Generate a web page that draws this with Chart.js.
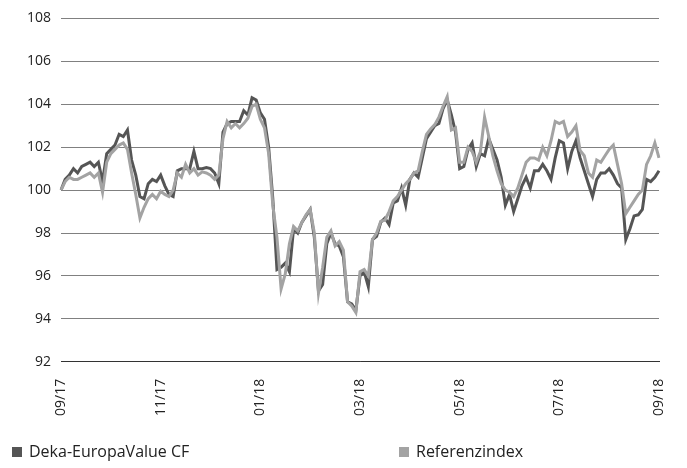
<!DOCTYPE html>
<html>
<head>
<meta charset="utf-8">
<script src="https://cdn.jsdelivr.net/npm/chart.js@4"></script>
<style>
  body { margin: 0; background: #fff; }
  #wrap { position: relative; width: 687px; height: 468px; }
  .leg { position: absolute; top: 440px; font: 16px "Open Sans", sans-serif; color: #222; line-height: 22px; }
  .leg span { display: inline-block; width: 10px; height: 10px; margin-right: 7px; vertical-align: 0px; }
</style>
</head>
<body>
<div id="wrap">
  <canvas id="perfChart" width="687" height="468"></canvas>
  <div class="leg" style="left: 12px;"><span style="background:#555555"></span>Deka-EuropaValue CF</div>
  <div class="leg" style="left: 399px;"><span style="background:#a3a3a3"></span>Referenzindex</div>
</div>
<script>
// month labels, one every 24 points (12 points per month)
var monthLabels = ['09/17', '11/17', '01/18', '03/18', '05/18', '07/18', '09/18'];

// Deka-EuropaValue CF (indexed, 09/17 = 100)
var fund = [
  100.0, 100.5, 100.7, 101.0, 100.8, 101.1, 101.2, 101.3, 101.1, 101.3,
  100.4, 101.7, 101.9, 102.1, 102.6, 102.5, 102.8, 101.4, 100.7, 99.7,
  99.6, 100.3, 100.5, 100.4, 100.7, 100.2, 99.8, 99.7, 100.9, 101.0,
  101.0, 101.0, 101.8, 101.0, 101.0, 101.05, 101.0, 100.8, 100.3, 102.7,
  103.1, 103.2, 103.2, 103.2, 103.7, 103.5, 104.3, 104.2, 103.6, 103.3,
  102.0, 99.6, 96.3, 96.4, 96.6, 96.2, 98.2, 98.0, 98.5, 98.8,
  99.1, 97.8, 95.3, 95.6, 97.5, 98.0, 97.5, 97.4, 96.9, 94.8,
  94.7, 94.4, 96.0, 96.2, 95.5, 97.7, 97.85, 98.5, 98.7, 98.4,
  99.4, 99.5, 100.1, 99.3, 100.5, 100.8, 100.6, 101.5, 102.4, 102.7,
  103.0, 103.1, 103.8, 104.2, 103.5, 102.7, 101.0, 101.1, 101.9, 102.2,
  101.1, 101.7, 101.6, 102.4, 101.9, 101.4, 100.6, 99.3, 99.8, 99.0,
  99.6, 100.2, 100.6, 100.1, 100.9, 100.9, 101.2, 100.9, 100.5, 101.5,
  102.3, 102.2, 101.0, 101.8, 102.3, 101.5, 100.9, 100.3, 99.7, 100.5,
  100.8, 100.8, 101.0, 100.7, 100.3, 100.1, 97.7, 98.2, 98.8, 98.85,
  99.1, 100.5, 100.4, 100.6, 100.9
];

// Referenzindex
var reference = [
  100.0, 100.4, 100.6, 100.5, 100.5, 100.6, 100.7, 100.8, 100.6, 100.8,
  99.9, 101.3, 101.7, 101.9, 102.1, 102.2, 101.9, 100.8, 99.8, 98.7,
  99.2, 99.6, 99.8, 99.6, 99.95, 99.8, 99.7, 100.0, 100.8, 100.6,
  101.2, 100.8, 101.0, 100.7, 100.85, 100.8, 100.7, 100.5, 100.7, 102.4,
  103.2, 102.9, 103.1, 102.9, 103.1, 103.35, 103.9, 104.0, 103.3, 102.9,
  101.7, 99.3, 97.8, 95.4, 96.1, 97.5, 98.3, 98.1, 98.5, 98.85,
  99.1, 98.0, 95.2, 96.4, 97.8, 98.1, 97.4, 97.6, 97.2, 94.8,
  94.6, 94.3, 96.2, 96.3, 96.0, 97.7, 98.0, 98.55, 98.6, 99.0,
  99.5, 99.7, 100.0, 100.3, 100.5, 100.8, 100.9, 101.8, 102.6, 102.85,
  103.05, 103.4, 103.9, 104.35, 102.8, 102.9, 101.3, 101.3, 102.0, 101.8,
  101.3, 101.8, 103.4, 102.5, 101.6, 100.9, 100.3, 100.0, 99.9, 99.7,
  100.1, 100.7, 101.3, 101.5, 101.5, 101.4, 102.0, 101.6, 102.3, 103.2,
  103.1, 103.2, 102.5, 102.7, 103.0, 101.85, 101.6, 100.8, 100.6, 101.4,
  101.3, 101.6, 101.9, 102.1, 101.2, 100.3, 98.9, 99.2, 99.5, 99.8,
  100.0, 101.2, 101.6, 102.2, 101.5
];

var yTicks = [92, 94, 96, 98, 100, 102, 104, 106, 108];

var labels = fund.map(function (v, i) {
    return i % 24 === 0 ? monthLabels[i / 24] : '';
});

var ctx = document.getElementById('perfChart').getContext('2d');
var chart = new Chart(ctx, {
    type: 'line',
    data: {
        labels: labels,
        datasets: [{
            label: 'Deka-EuropaValue CF',
            data: fund,
            borderColor: '#555555',
            borderWidth: 3,
            pointRadius: 0,
            tension: 0,
            order: 2
        }, {
            label: 'Referenzindex',
            data: reference,
            borderColor: '#a3a3a3',
            borderWidth: 3,
            pointRadius: 0,
            tension: 0,
            order: 1
        }]
    },
    options: {
        responsive: false,
        animation: false,
        layout: { padding: { left: 17, right: 28, top: 7, bottom: 43 } },
        plugins: {
            legend: { display: false },
            tooltip: { enabled: false }
        },
        scales: {
            x: {
                grid: { display: false },
                border: { display: true, color: '#333', width: 1 },
                ticks: {
                    autoSkip: false,
                    maxRotation: 90,
                    minRotation: 90,
                    padding: 9,
                    color: '#222',
                    font: { family: 'Open Sans', size: 14 },
                    callback: function (v, i) { return labels[i] || null; }
                }
            },
            y: {
                min: 92,
                max: 108,
                afterBuildTicks: function (axis) {
                    axis.ticks = yTicks.map(function (t) { return { value: t }; });
                },
                grid: { color: '#808080', drawTicks: false },
                border: { display: false },
                ticks: {
                    padding: 10,
                    color: '#222',
                    font: { family: 'Open Sans', size: 14 }
                }
            }
        }
    }
});
</script>
</body>
</html>
